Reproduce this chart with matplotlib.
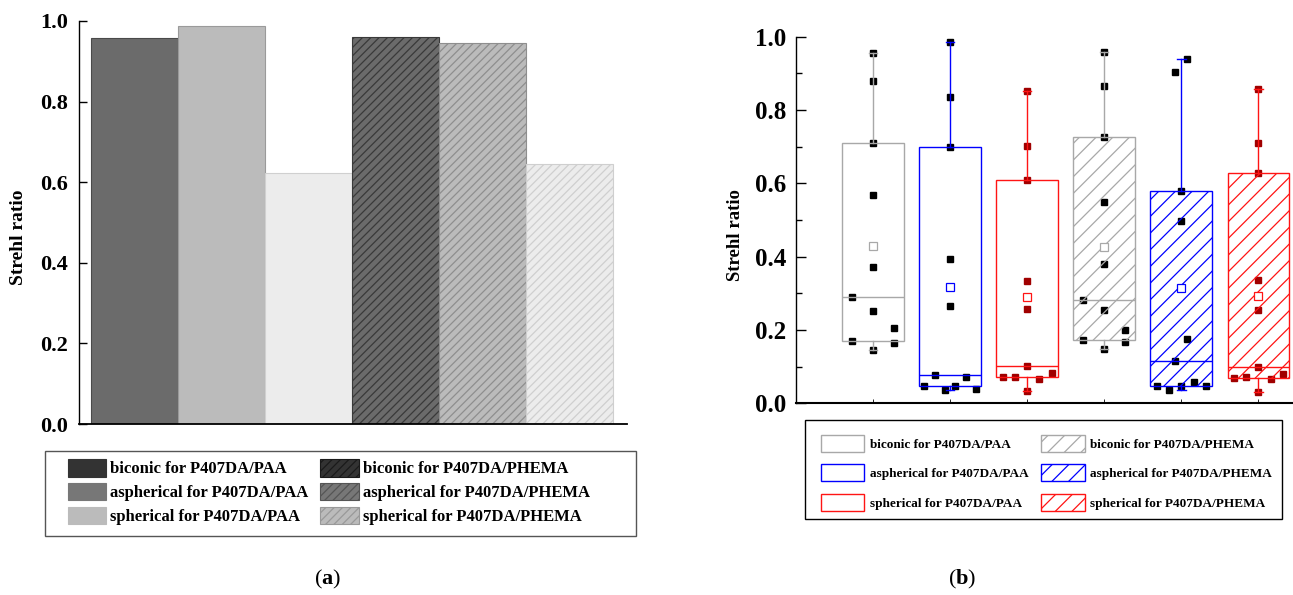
import numpy as np
import matplotlib
matplotlib.use("Agg")
import matplotlib.pyplot as plt
from matplotlib.patches import Patch, Rectangle

plt.rcParams['font.family'] = ['Liberation Serif', 'DejaVu Serif']
plt.rcParams['mathtext.fontset'] = 'custom'
plt.rcParams['mathtext.rm'] = 'Liberation Serif'
plt.rcParams['mathtext.bf'] = 'Liberation Serif:bold'
plt.rcParams['hatch.linewidth'] = 0.9

# ---- data ----
series_labels = ["biconic for P407DA/PAA", "aspherical for P407DA/PAA",
                 "spherical for P407DA/PAA", "biconic for P407DA/PHEMA",
                 "aspherical for P407DA/PHEMA", "spherical for P407DA/PHEMA"]

# (a) Strehl ratio of each lens
bar_values = [0.959, 0.988, 0.624, 0.961, 0.945, 0.645]

# (b) Strehl ratio samples for each lens
biconic_paa = [0.955, 0.879, 0.710, 0.568, 0.372, 0.290, 0.251, 0.204, 0.171, 0.165, 0.145]
aspherical_paa = [0.985, 0.836, 0.700, 0.393, 0.264, 0.078, 0.071, 0.047, 0.047, 0.036, 0.038]
spherical_paa = [0.852, 0.703, 0.609, 0.334, 0.258, 0.103, 0.073, 0.073, 0.066, 0.082, 0.034]
biconic_phema = [0.957, 0.865, 0.725, 0.548, 0.379, 0.282, 0.255, 0.200, 0.173, 0.167, 0.149]
aspherical_phema = [0.940, 0.904, 0.579, 0.497, 0.175, 0.115, 0.048, 0.048, 0.059, 0.048, 0.035]
spherical_phema = [0.857, 0.709, 0.629, 0.335, 0.255, 0.100, 0.070, 0.073, 0.065, 0.080, 0.032]

y_ticks = [0.0, 0.2, 0.4, 0.6, 0.8, 1.0]
y_ticklabels = ["0.0", "0.2", "0.4", "0.6", "0.8", "1.0"]

# ---- styles ----
bar_face = ['#6b6b6b', '#bbbbbb', '#ececec', '#6b6b6b', '#bbbbbb', '#ececec']
bar_edge = ['#4a4a4a', '#9a9a9a', '#d0d0d0', '#3a3a3a', '#8e8e8e', '#cfcfcf']
bar_hatch = [None, None, None, '////', '////', '////']
leg_a_face = ['#333333', '#777777', '#bbbbbb', '#333333', '#777777', '#bbbbbb']
leg_a_edge = ['#333333', '#777777', '#bbbbbb', '#1a1a1a', '#555555', '#999999']

box_data = [biconic_paa, aspherical_paa, spherical_paa,
            biconic_phema, aspherical_phema, spherical_phema]
box_color = ['#a8a8a8', '#0000ff', '#ff1414', '#a8a8a8', '#0000ff', '#ff1414']
point_color = ['black', 'black', '#a00000', 'black', 'black', '#a00000']
box_hatch = [None, None, None, '//', '//', '//']
# horizontal spread of the sample points (fraction of box spacing)
jitter = [
    [0, 0, 0, 0, 0, -0.27, 0, 0.27, -0.27, 0.27, 0],
    [0, 0, 0, 0, 0, -0.20, 0.20, -0.34, 0.065, -0.07, 0.33],
    [0, 0, 0, 0, 0, 0, -0.32, -0.16, 0.16, 0.32, 0],
    [0, 0, 0, 0, 0, -0.27, 0, 0.27, -0.27, 0.27, 0],
    [0.08, -0.08, 0, 0, 0.08, -0.08, -0.32, 0, 0.16, 0.32, -0.16],
    [0, 0, 0, 0, 0, 0, -0.32, -0.16, 0.16, 0.32, 0],
]

W, H = 1293, 595
fig = plt.figure(figsize=(W / 100, H / 100), dpi=100)

# ---------------- (a) bar chart ----------------
ax1 = fig.add_axes([79.3 / W, 1 - 424 / H, 548 / W, 403 / H])
pos = np.arange(1, len(bar_values) + 1)
bars = ax1.bar(pos, bar_values, width=1.0, color=bar_face,
               edgecolor=bar_edge, linewidth=0.8)
for b, h in zip(bars, bar_hatch):
    if h:
        b.set_hatch(h)
ax1.set_xlim(0.36, 6.67)
ax1.set_ylim(0, 1)
ax1.spines['top'].set_visible(False)
ax1.spines['right'].set_visible(False)
ax1.spines['left'].set_linewidth(1.0)
ax1.spines['bottom'].set_linewidth(1.3)
ax1.set_xticks([])
ax1.set_yticks(y_ticks, labels=y_ticklabels, fontweight='bold')
ax1.tick_params(axis='y', direction='in', length=6, width=1,
                labelsize=16, pad=8)
ax1.set_ylabel("Strehl ratio", fontsize=14, fontweight='bold')
ax1.yaxis.set_label_coords(-0.095, 0.464)

handles_a = [Patch(facecolor=fc, edgecolor=ec, hatch=h, linewidth=0.8)
             for fc, ec, h in zip(leg_a_face, leg_a_edge, bar_hatch)]
fig.legend(handles_a, series_labels, ncol=2, loc='upper left',
           bbox_to_anchor=(68 / W, 1 - 459 / H), frameon=False,
           borderpad=0, borderaxespad=0,
           prop={'size': 12, 'weight': 'bold'},
           handlelength=2.3, handleheight=1.25, handletextpad=0.25,
           labelspacing=0.32, columnspacing=0.7)
fig.add_artist(Rectangle((44.6 / W, 1 - 535.8 / H), (636 - 44.6) / W,
                         (535.8 - 450.7) / H, transform=fig.transFigure,
                         fill=False, edgecolor='#555555', linewidth=1))

# ---------------- (b) box chart ----------------
ax2 = fig.add_axes([796 / W, 1 - 403.3 / H, 497 / W, 366.7 / H])
for i, vals in enumerate(box_data):
    v = np.array(vals)
    x0 = i + 1
    ax2.plot(x0 + np.array(jitter[i]), v, linestyle='none', marker='s',
             markersize=4.2, color=point_color[i], zorder=2)
    stats = dict(med=np.median(v),
                 q1=np.percentile(v, 25, method='weibull'),
                 q3=np.percentile(v, 75, method='weibull'),
                 whislo=v.min(), whishi=v.max(), mean=v.mean(), fliers=[])
    c = box_color[i]
    art = ax2.bxp([stats], positions=[x0], widths=0.8, capwidths=0.11,
                  patch_artist=True, showmeans=True, zorder=3,
                  boxprops=dict(facecolor='none', edgecolor=c, linewidth=1.0),
                  medianprops=dict(color=c, linewidth=1.0),
                  whiskerprops=dict(color=c, linewidth=1.0),
                  capprops=dict(color=c, linewidth=1.0),
                  meanprops=dict(marker='s', markersize=6,
                                 markerfacecolor='white',
                                 markeredgecolor=c, markeredgewidth=0.9))
    if box_hatch[i]:
        art['boxes'][0].set_hatch(box_hatch[i])

ax2.set_xlim(0, 6.45)
ax2.set_ylim(0, 1)
ax2.spines['top'].set_visible(False)
ax2.spines['right'].set_visible(False)
ax2.spines['left'].set_linewidth(1.0)
ax2.spines['bottom'].set_linewidth(1.5)
ax2.set_xticks(pos, labels=[])
ax2.tick_params(axis='x', direction='in', length=3, width=0.6)
ax2.set_yticks(y_ticks, labels=y_ticklabels, fontweight='bold')
ax2.set_yticks(np.arange(0.1, 1.0, 0.2), minor=True)
ax2.tick_params(axis='y', which='major', direction='in', length=7,
                width=1, labelsize=18, pad=7)
ax2.tick_params(axis='y', which='minor', direction='in', length=4, width=1)
ax2.set_ylabel("Strehl ratio", fontsize=13.5, fontweight='bold')
ax2.yaxis.set_label_coords(-0.105, 0.459)

handles_b = [Patch(facecolor='white', edgecolor=c, hatch=h, linewidth=1.0)
             for c, h in zip(box_color, box_hatch)]
fig.legend(handles_b, series_labels, ncol=2, loc='upper left',
           bbox_to_anchor=(820.7 / W, 1 - 435 / H), frameon=False,
           borderpad=0, borderaxespad=0,
           prop={'size': 9.5, 'weight': 'bold'},
           handlelength=3.3, handleheight=1.6, handletextpad=0.4,
           labelspacing=0.95, columnspacing=1.0)
fig.add_artist(Rectangle((805 / W, 1 - 519 / H), (1282 - 805) / W,
                         (519 - 420) / H, transform=fig.transFigure,
                         fill=False, edgecolor='black', linewidth=1))

# captions
fig.text(328 / W, 1 - 579 / H, r'($\mathbf{a}$)', ha='center', va='center',
         fontsize=16)
fig.text(962 / W, 1 - 579 / H, r'($\mathbf{b}$)', ha='center', va='center',
         fontsize=16)

fig.savefig("out.png", dpi=100)
